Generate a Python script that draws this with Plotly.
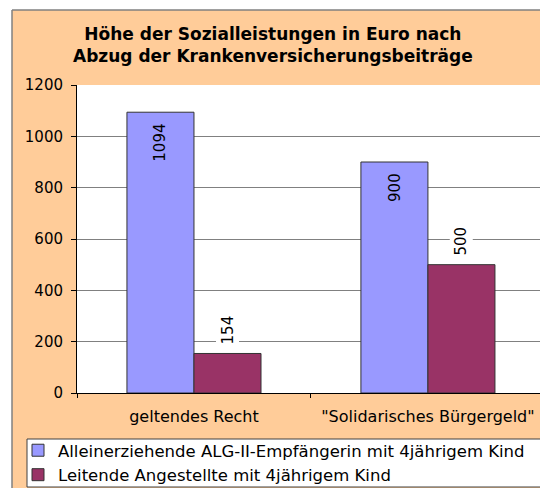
import plotly.graph_objects as go

categories = ["geltendes Recht", "\"Solidarisches Bürgergeld\""]
series_names = [
    "Alleinerziehende ALG-II-Empfängerin mit 4jährigem Kind",
    "Leitende Angestellte mit 4jährigem Kind",
]
values_alg = [1094, 900]
values_leit = [154, 500]
y_ticks = [0, 200, 400, 600, 800, 1000, 1200]

FONT = "DejaVu Sans"
W, H = 540, 488
L, R, T, B = 77, 0, 85, 95
PW = W - L - R
PH = H - T - B
BAR_SHIFT = 33.5  # half bar width in px


def px(x):
    return (x - L) / PW


def py(y):
    return (H - B - y) / PH


fig = go.Figure()
fig.add_trace(go.Bar(
    x=categories, y=values_alg, name=series_names[0],
    marker=dict(color="#9999FF", line=dict(color="#333333", width=1)),
))
fig.add_trace(go.Bar(
    x=categories, y=values_leit, name=series_names[1],
    marker=dict(color="#993366", line=dict(color="#333333", width=1)),
))

annotations = [dict(
    text="Höhe der Sozialleistungen in Euro nach<br>Abzug der Krankenversicherungsbeiträge",
    xref="paper", yref="paper", x=px(273), y=py(45),
    xanchor="center", yanchor="middle", showarrow=False,
    font=dict(family=FONT, size=17, color="black", weight="bold"),
)]
for cat, v in zip(categories, values_alg):
    annotations.append(dict(
        text=str(v), x=cat, y=v, xref="x", yref="y",
        xshift=-BAR_SHIFT, yshift=-9, xanchor="center", yanchor="top",
        textangle=-90, showarrow=False,
        font=dict(family=FONT, size=15, color="black"),
    ))
for cat, v in zip(categories, values_leit):
    annotations.append(dict(
        text=str(v), x=cat, y=v, xref="x", yref="y",
        xshift=BAR_SHIFT, yshift=6, xanchor="center", yanchor="bottom",
        textangle=-90, showarrow=False, bgcolor="white", borderpad=2,
        font=dict(family=FONT, size=15, color="black"),
    ))

shapes = [
    # white strips outside the chart area (top and left)
    dict(type="rect", xref="paper", yref="paper", layer="below",
         x0=px(-5), x1=px(560), y0=py(10), y1=py(-5),
         fillcolor="white", line=dict(width=0)),
    dict(type="rect", xref="paper", yref="paper", layer="below",
         x0=px(-5), x1=px(12), y0=py(500), y1=py(-5),
         fillcolor="white", line=dict(width=0)),
    # chart-area border
    dict(type="line", xref="paper", yref="paper", layer="below",
         x0=px(12), x1=px(560), y0=py(10), y1=py(10),
         line=dict(color="#808080", width=1.5)),
    dict(type="line", xref="paper", yref="paper", layer="below",
         x0=px(12), x1=px(12), y0=py(10), y1=py(500),
         line=dict(color="#808080", width=1.5)),
    # legend box
    dict(type="rect", xref="paper", yref="paper", layer="below",
         x0=px(27), x1=px(560), y0=py(487), y1=py(439),
         fillcolor="white", line=dict(color="#404040", width=1)),
]

fig.update_layout(
    width=W, height=H,
    margin=dict(l=L, r=R, t=T, b=B, autoexpand=False),
    paper_bgcolor="#FFCC99", plot_bgcolor="white",
    font=dict(family=FONT, size=15, color="black"),
    barmode="group", bargap=0.427, bargroupgap=0,
    showlegend=True,
    legend=dict(x=px(18), y=py(433), xanchor="left", yanchor="top",
                bgcolor="rgba(0,0,0,0)", borderwidth=0,
                font=dict(family=FONT, size=16.5, color="black"),
                tracegroupgap=0),
    shapes=shapes,
    annotations=annotations,
)
fig.update_xaxes(
    type="category", range=[-0.5, 1.479],
    showline=True, linecolor="black", linewidth=1,
    ticks="outside", tickson="boundaries", ticklen=4, tickcolor="black",
    ticklabelstandoff=9,
    showgrid=False, tickfont=dict(family=FONT, size=16),
)
fig.update_yaxes(
    range=[0, 1200], tickvals=y_ticks,
    showline=True, linecolor="black", linewidth=1,
    ticks="outside", ticklen=5, tickcolor="black",
    ticklabelstandoff=5,
    showgrid=True, gridcolor="#808080", gridwidth=1,
    zeroline=False, tickfont=dict(family=FONT, size=15),
)

fig.write_html(
    "out.html",
    config={"displayModeBar": False},
    post_script="document.body.style.margin='0';document.body.style.overflow='hidden';",
)
